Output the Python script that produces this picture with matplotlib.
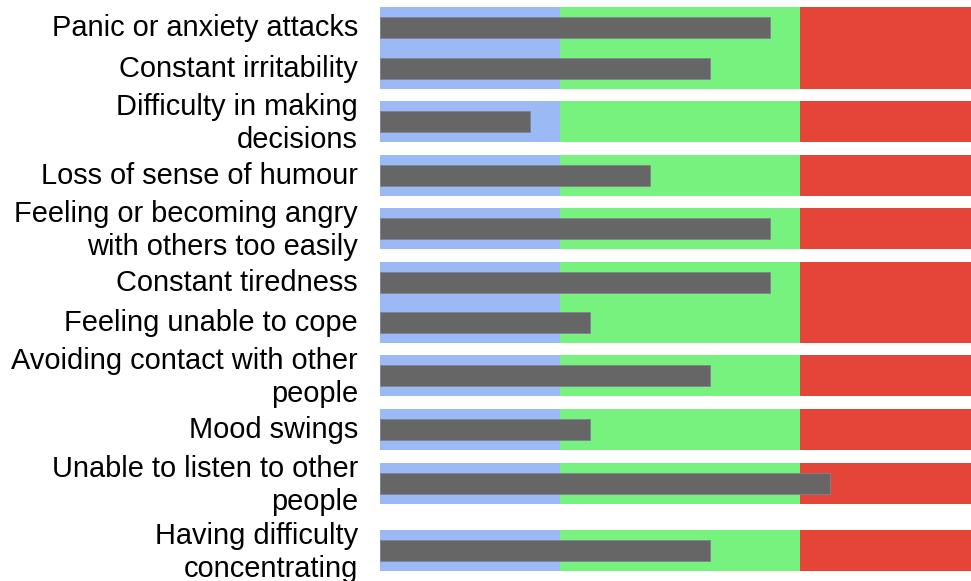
import numpy as np
import matplotlib.pyplot as plt

# data
labels = ["Panic or anxiety attacks",
          "Constant irritability",
          "Difficulty in making\ndecisions",
          "Loss of sense of humour",
          "Feeling or becoming angry\nwith others too easily",
          "Constant tiredness",
          "Feeling unable to cope",
          "Avoiding contact with other\npeople",
          "Mood swings",
          "Unable to listen to other\npeople",
          "Having difficulty\nconcentrating"]
values = [6.5, 5.5, 2.5, 4.5, 6.5, 6.5, 3.5, 5.5, 3.5, 7.5, 5.5]
range_low = 3
range_mid = 7
range_high = 10

# layout (pixel rows of the original table)
row_top = [7, 48, 101, 155, 208, 262, 302, 355, 409, 463, 530]
row_h = 40.5
bar_h = 20.5

W, H = 971, 581
fig = plt.figure(figsize=(W/100, H/100), dpi=100)
plt.rcParams['font.family'] = ['Liberation Sans', 'DejaVu Sans']

ax = fig.add_axes([380/W, 0, (W-380)/W, 1])
ax.set_ylim(H, 0)
ax.set_xlim(0, (W-380)/60)
ax.axis('off')

blue = '#9ab9f5'
green = '#78f27e'
red = '#e54538'

for i in range(len(labels)):
    yc = row_top[i] + row_h/2
    ax.barh(yc, range_low, height=row_h, left=0, color=blue, linewidth=0)
    ax.barh(yc, range_mid-range_low, height=row_h, left=range_low, color=green, linewidth=0)
    ax.barh(yc, range_high-range_mid, height=row_h, left=range_mid, color=red, linewidth=0)
    ax.barh(yc, values[i], height=bar_h, left=0, color='#666666',
            edgecolor='#7d8596', linewidth=0.6)
    shift = 2 if '\n' in labels[i] else 0.5
    fig.text(358/W, 1 - (yc+shift)/H, labels[i], ha='right', va='center',
             fontsize=20.9, color='#000000', linespacing=1.22)

plt.savefig('out.png', dpi=100)
